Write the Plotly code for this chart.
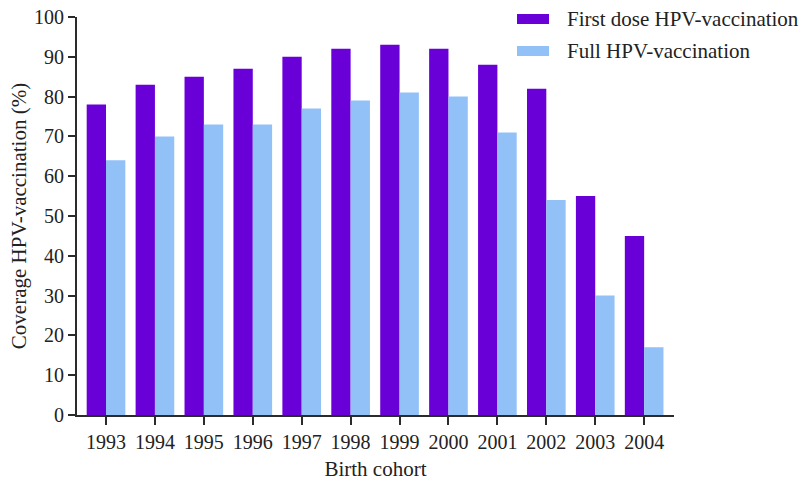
import plotly.graph_objects as go

cohorts = ["1993", "1994", "1995", "1996", "1997", "1998", "1999", "2000", "2001", "2002", "2003", "2004"]
first_dose = [78, 83, 85, 87, 90, 92, 93, 92, 88, 82, 55, 45]
full_vacc = [64, 70, 73, 73, 77, 79, 81, 80, 71, 54, 30, 17]
series_names = ["First dose HPV-vaccination", "Full HPV-vaccination"]
colors = ["#6a00d8", "#92c1f8"]
y_ticks = [0, 10, 20, 30, 40, 50, 60, 70, 80, 90, 100]

FONT = "Liberation Serif"
AX = "#2b2b2b"

fig = go.Figure()
for name, vals, col in zip(series_names, [first_dose, full_vacc], colors):
    fig.add_trace(go.Bar(x=cohorts, y=vals, name=name, marker=dict(color=col, line=dict(width=0)),
                         showlegend=False))

fig.update_layout(
    width=803, height=481,
    margin=dict(l=77, r=129, t=17, b=66, autoexpand=False),
    plot_bgcolor="white", paper_bgcolor="white",
    barmode="group", bargap=0.21, bargroupgap=0,
    font=dict(family=FONT, size=20, color="#222"),
    xaxis=dict(type="category", range=[-0.593, 11.61], showline=True, linecolor=AX, linewidth=2,
               ticks="outside", ticklen=8, tickwidth=2, tickcolor=AX, showgrid=False,
               tickfont=dict(size=20), automargin=False,
               title=dict(text="Birth cohort", font=dict(size=21), standoff=10)),
    yaxis=dict(range=[0, 100], tickvals=y_ticks, showline=True, linecolor=AX, linewidth=2,
               ticks="outside", ticklen=7, tickwidth=2, tickcolor=AX, showgrid=False, zeroline=False,
               tickfont=dict(size=20), automargin=False,
               title=dict(text="Coverage HPV-vaccination (%)", font=dict(size=21), standoff=2)),
)

# legend drawn manually
leg_y = [19, 51]
for name, col, yc in zip(series_names, colors, leg_y):
    fig.add_shape(type="rect", xref="paper", yref="paper",
                  x0=(517 - 77) / 597, x1=(549 - 77) / 597,
                  y0=1 - ((yc - 5) - 17) / 398, y1=1 - ((yc + 5) - 17) / 398,
                  fillcolor=col, line=dict(width=0))
    fig.add_annotation(xref="paper", yref="paper", x=(565 - 77) / 597, y=1 - (yc - 17) / 398,
                       text=name, showarrow=False, xanchor="left", yanchor="middle",
                       font=dict(family=FONT, size=21, color="#222"))

fig.write_html("out.html", config={"displayModeBar": False},
               post_script="document.body.style.margin='0';document.body.style.overflow='hidden';")
